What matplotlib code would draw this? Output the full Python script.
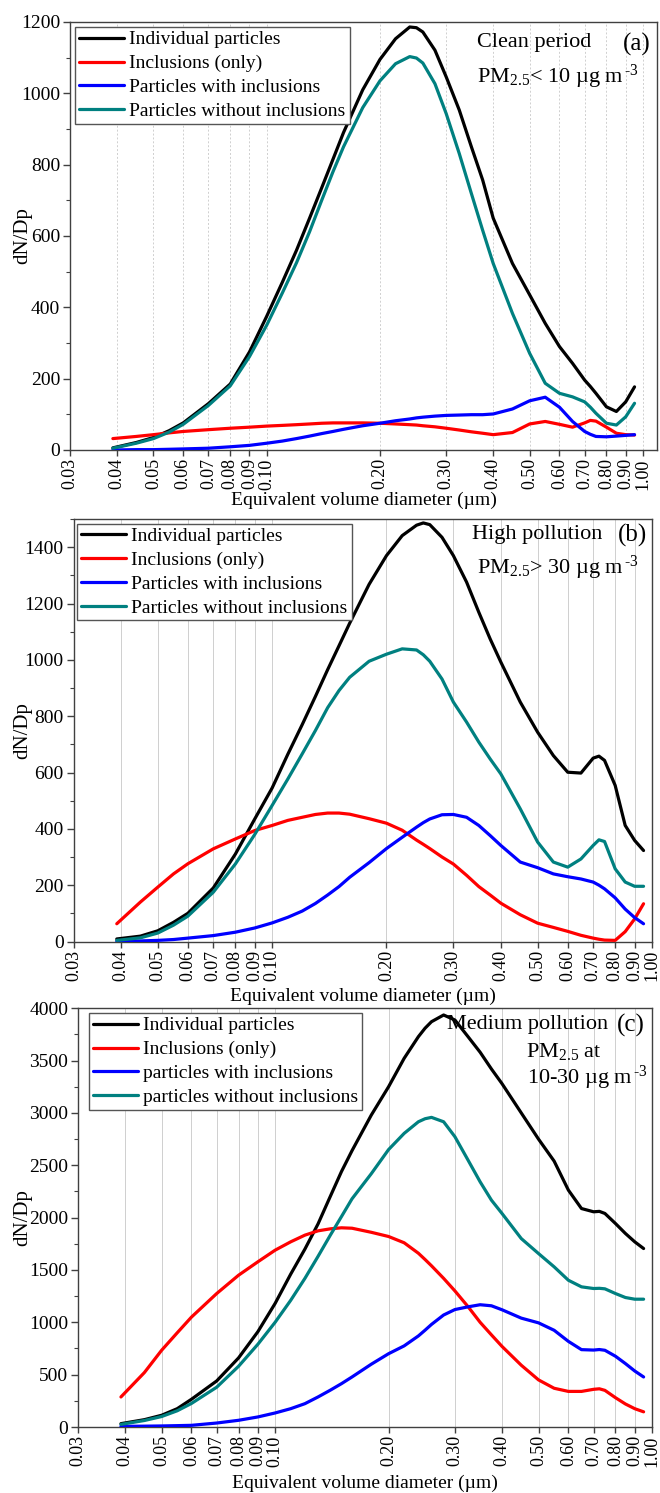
import matplotlib
matplotlib.use("Agg")
import matplotlib.pyplot as plt
from matplotlib.ticker import FixedLocator, MultipleLocator, NullLocator

plt.rcParams['font.family'] = ['Liberation Serif', 'DejaVu Serif']
plt.rcParams['mathtext.fontset'] = 'custom'
plt.rcParams['mathtext.rm'] = 'Liberation Serif'
plt.rcParams['mathtext.it'] = 'Liberation Serif:italic'

# ---------------- data ----------------
diameter = [0.039, 0.045, 0.05, 0.055, 0.06, 0.07, 0.08, 0.09, 0.10, 0.11, 0.12, 0.13,
            0.14, 0.15, 0.16, 0.18, 0.20, 0.22, 0.24, 0.25, 0.26, 0.28, 0.30, 0.325, 0.35,
            0.375, 0.40, 0.45, 0.50, 0.55, 0.60, 0.65, 0.70, 0.725, 0.75, 0.80, 0.85,
            0.90, 0.95]

# (a) clean period
a_individual = [6, 21, 35, 54, 76, 130, 185, 275, 375, 470, 560, 650,
                735, 815, 890, 1010, 1095, 1153, 1186, 1184, 1172, 1121, 1046, 953, 850,
                757, 650, 523, 435, 355, 290, 243, 196, 178, 159, 121, 108,
                135, 177]
a_inclusions = [32, 38, 43, 48, 52, 57, 61, 64, 67, 69, 71, 73,
                75, 76, 76, 76, 75, 73, 71, 70, 68, 65, 61, 56, 51,
                47, 43, 49, 73, 80, 72, 64, 76, 83, 81, 64, 47,
                43, 42]
a_with = [0, 1, 1, 2, 3, 5, 9, 13, 19, 25, 32, 39,
          46, 52, 58, 68, 75, 82, 87, 90, 92, 95, 97, 98, 99,
          99, 101, 115, 138, 148, 120, 80, 52, 44, 38, 37, 39,
          41, 43]
a_without = [5, 19, 32, 50, 72, 125, 180, 262, 350, 440, 525, 612,
             700, 780, 850, 960, 1035, 1083, 1103, 1099, 1085, 1027, 943, 831, 719,
             616, 523, 383, 271, 187, 159, 149, 135, 120, 103, 75, 70,
             93, 131]

# (b) high pollution
b_individual = [9, 19, 38, 68, 100, 190, 310, 435, 545, 665, 770, 870,
                965, 1050, 1130, 1268, 1370, 1441, 1478, 1486, 1480, 1435, 1370, 1276, 1169,
                1074, 992, 850, 743, 660, 601, 598, 651, 658, 643, 554, 412,
                359, 323]
b_inclusions = [63, 140, 193, 240, 276, 329, 364, 394, 412, 430, 441, 451,
                456, 456, 452, 436, 420, 395, 360, 345, 330, 300, 275, 235, 195,
                165, 136, 95, 65, 50, 36, 22, 12, 8, 5, 4, 35,
                80, 134]
b_with = [1, 2, 4, 7, 12, 21, 33, 48, 66, 86, 108, 135,
          165, 195, 228, 280, 330, 370, 406, 422, 435, 450, 451, 441, 412,
          376, 341, 282, 262, 240, 230, 222, 211, 200, 187, 155, 115,
          85, 63]
b_without = [4, 13, 30, 58, 90, 175, 275, 380, 483, 577, 666, 749,
             830, 891, 938, 995, 1020, 1039, 1035, 1018, 995, 932, 850, 779, 708,
             648, 595, 471, 353, 282, 264, 293, 341, 361, 355, 258, 211,
             196, 196]

# (c) medium pollution
c_individual = [32, 70, 112, 175, 265, 440, 660, 910, 1180, 1460, 1700, 1940,
                2200, 2440, 2640, 2980, 3250, 3522, 3729, 3810, 3872, 3936, 3888, 3729, 3580,
                3420, 3280, 3000, 2750, 2540, 2263, 2087, 2056, 2060, 2040, 1944, 1849,
                1769, 1705]
c_inclusions = [287, 520, 733, 900, 1050, 1275, 1450, 1578, 1689, 1769, 1833, 1874,
                1893, 1903, 1899, 1860, 1820, 1760, 1660, 1600, 1540, 1420, 1300, 1150, 1000,
                880, 770, 590, 450, 370, 340, 340, 360, 365, 350, 280, 220,
                175, 145]
c_with = [6, 8, 10, 13, 16, 38, 64, 96, 134, 175, 223, 287,
          351, 414, 478, 600, 700, 775, 870, 925, 980, 1070, 1122, 1148, 1168,
          1158, 1120, 1040, 995, 924, 818, 739, 735, 740, 733, 676, 606,
          535, 478]
c_without = [25, 62, 100, 155, 225, 380, 580, 790, 1000, 1210, 1420, 1630,
             1830, 2010, 2180, 2420, 2650, 2805, 2916, 2945, 2958, 2916, 2773, 2550, 2342,
             2167, 2040, 1800, 1657, 1530, 1402, 1339, 1323, 1325, 1320, 1275, 1237,
             1221, 1221]

x_ticks = [0.03, 0.04, 0.05, 0.06, 0.07, 0.08, 0.09, 0.10, 0.20, 0.30, 0.40,
           0.50, 0.60, 0.70, 0.80, 0.90, 1.00]

labels_ab = ["Individual particles", "Inclusions (only)",
             "Particles with inclusions", "Particles without inclusions"]
labels_c = ["Individual particles", "Inclusions (only)",
            "particles with inclusions", "particles without inclusions"]
colors = ["#000000", "#ff0000", "#0000ff", "#008080"]

W, H = 660, 1493
fig = plt.figure(figsize=(W / 100, H / 100), dpi=100)


def px(x, y):
    return x / W, 1 - y / H


def make_axes(left, right, top, bottom):
    return fig.add_axes([left / W, 1 - bottom / H, (right - left) / W, (bottom - top) / H])


panels = [
    dict(box=(70, 657, 22, 450), series=[a_individual, a_inclusions, a_with, a_without],
         labels=labels_ab, ylim=1200, ymaj=200, ymin=100, xmax=1.09, grid_ls=(0, (2, 2)),
         leg=(75, 27), ylab=-0.08, xlab=-0.117),
    dict(box=(73.5, 652, 519, 941.5), series=[b_individual, b_inclusions, b_with, b_without],
         labels=labels_ab, ylim=1500, ymaj=200, ymin=100, xmax=1.0, grid_ls='-',
         leg=(77, 523.5), ylab=-0.088, xlab=-0.13),
    dict(box=(78, 652, 1008.3, 1427), series=[c_individual, c_inclusions, c_with, c_without],
         labels=labels_c, ylim=4000, ymaj=500, ymin=250, xmax=1.0, grid_ls='-',
         leg=(89, 1013), ylab=-0.096, xlab=-0.134),
]

spine_col = '#404040'
for p in panels:
    ax = make_axes(*p['box'])
    ax.set_xscale('log')
    handles = []
    for s, c, lab in zip(p['series'], colors, p['labels']):
        h, = ax.plot(diameter, s, color=c, lw=2.3, label=lab, solid_capstyle='round',
                     solid_joinstyle='round', zorder=3)
        handles.append(h)
    ax.set_xlim(0.03, p['xmax'])
    ax.set_ylim(0, p['ylim'])
    ax.xaxis.set_major_locator(FixedLocator(x_ticks))
    ax.xaxis.set_minor_locator(NullLocator())
    ax.set_xticklabels(["%.2f" % t for t in x_ticks], rotation=90, fontsize=13)
    ax.yaxis.set_major_locator(MultipleLocator(p['ymaj']))
    ax.yaxis.set_minor_locator(MultipleLocator(p['ymin']))
    for lab in ax.get_yticklabels():
        lab.set_fontsize(14)
    ax.tick_params(axis='y', which='major', length=5, width=1, color=spine_col, pad=2)
    ax.tick_params(axis='y', which='minor', length=3, width=0.8, color=spine_col)
    ax.tick_params(axis='x', which='major', length=4, width=1, color=spine_col, pad=2)
    for sp in ax.spines.values():
        sp.set_color(spine_col)
        sp.set_linewidth(1.0)
    ax.grid(True, axis='x', which='major', color='#cfcfcf', lw=0.7, ls=p['grid_ls'], zorder=0)
    ax.set_axisbelow(True)
    ax.set_ylabel('dN/Dp', fontsize=15)
    ax.yaxis.label.set_va('center')
    ax.yaxis.set_label_coords(p['ylab'], 0.5)
    ax.set_xlabel('Equivalent volume diameter (µm)', fontsize=14)
    ax.xaxis.set_label_coords(0.5, p['xlab'])
    ax.xaxis.label.set_va('center')
    leg = ax.legend(handles=handles, loc='upper left', bbox_to_anchor=px(*p['leg']),
                    bbox_transform=fig.transFigure, fontsize=14, frameon=True,
                    fancybox=False, edgecolor='#555555', framealpha=1,
                    handlelength=2.3, handletextpad=0.3, labelspacing=0.32,
                    borderpad=0.2, borderaxespad=0)
    leg.get_frame().set_linewidth(1.0)
    leg.set_zorder(5)

# annotations
txt = dict(ha='left', va='center', fontsize=16, zorder=10)
sup = r"$^{\,\mathrm{\text{-}3}}$"
fig.text(*px(477, 43), "Clean period", **txt)
fig.text(*px(651, 44), "(a)", ha='right', va='center', fontsize=18)
fig.text(*px(477, 77), "PM$_{2.5}$< 10 µg m" + sup, **txt)

fig.text(*px(472, 535), "High pollution", **txt)
fig.text(*px(647, 535), "(b)", ha='right', va='center', fontsize=18)
fig.text(*px(477, 568), "PM$_{2.5}$> 30 µg m" + sup, **txt)

fig.text(*px(447, 1025), "Medium pollution", **txt)
fig.text(*px(645, 1025), "(c)", ha='right', va='center', fontsize=18)
fig.text(*px(526, 1052), "PM$_{2.5}$ at", **txt)
fig.text(*px(527, 1078), "10-30 µg m" + sup, **txt)

fig.savefig('out.png', dpi=100)
